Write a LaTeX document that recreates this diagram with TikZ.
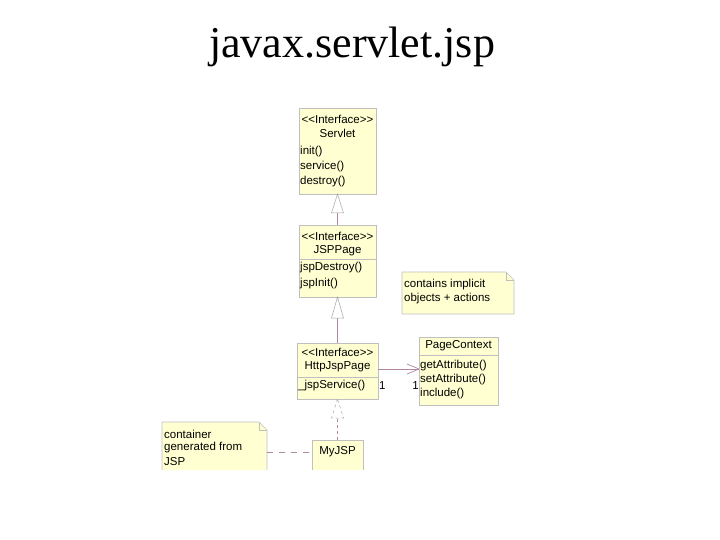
\documentclass[tikz,border=0pt]{standalone}
\usepackage{fontspec}
\setmainfont{Liberation Serif}
\newfontfamily\arial{Liberation Sans}
\definecolor{lnc}{RGB}{175,135,165}
\definecolor{boxf}{RGB}{255,255,210}
\begin{document}
\begin{tikzpicture}[x=1pt,y=-1pt,
  box/.style={fill=boxf, draw=black!25, line width=0.6pt},
  txt/.style={font=\arial\fontsize{11.5}{13}\selectfont, inner sep=0pt, anchor=west},
  ctxt/.style={font=\arial\fontsize{11.5}{13}\selectfont, inner sep=0pt},
  ln/.style={draw=lnc, line width=0.7pt},
  tri/.style={draw=black!35, fill=white, line width=0.5pt}]
\useasboundingbox (0,0) rectangle (720,540);
\node[font=\fontsize{44}{46}\selectfont, inner sep=0pt] (title) at (352,47) {javax.servlet.jsp};
% Servlet
\draw[box] (299,108) rectangle (376,194);
\coordinate (sb) at (337.5,194);
\node[ctxt] (s1) at (337.5,119) {<<Interface>>};
\node[ctxt] (s2) at (337.5,133) {Servlet};
\node[txt] (s3) at (300,152) {init()};
\node[txt] (s4) at (300,167) {service()};
\node[txt] (s5) at (300,182) {destroy()};
% JSPPage
\draw[box] (299,225) rectangle (376,297);
\draw[draw=black!25] (299,259) -- (376,259);
\coordinate (jt) at (337.5,225);
\coordinate (jb) at (337.5,297);
\node[ctxt] (j1) at (337.5,236) {<<Interface>>};
\node[ctxt] (j2) at (337.5,251) {JSPPage};
\node[txt] (j3) at (300,268) {jspDestroy()};
\node[txt] (j4) at (300,284) {jspInit()};
% HttpJspPage
\draw[box] (297,343) rectangle (378,399);
\draw[draw=black!25] (297,377) -- (378,377);
\coordinate (ht) at (337.5,343);
\coordinate (hb) at (337.5,399);
\coordinate (hr) at (378,369);
\node[ctxt] (h1) at (337.5,352) {<<Interface>>};
\node[ctxt] (h2) at (337.5,367) {HttpJspPage};
\node[txt] (h3) at (298,386) {\_jspService()};
\node[txt] (one1) at (379,386) {1};
% PageContext
\draw[box] (419,337) rectangle (498,405);
\draw[draw=black!25] (419,355) -- (498,355);
\coordinate (pl) at (419,369);
\node[ctxt] (p1) at (458.5,346) {PageContext};
\node[txt] (p2) at (420,366) {getAttribute()};
\node[txt] (p3) at (420,380) {setAttribute()};
\node[txt] (p4) at (420,394) {include()};
\node[ctxt, anchor=east] (one2) at (419,386) {1};
% note implicit
\draw[box] (402,272) -- (506,272) -- (514,280) -- (514,314) -- (402,314) -- cycle;
\draw[draw=black!25] (506,272) -- (506,280) -- (514,280);
\node[txt] (n1) at (404,285) {contains implicit};
\node[txt] (n2) at (404,299) {objects + actions};
% MyJSP
\fill[boxf] (312,440) rectangle (363,470);
\draw[draw=black!25, line width=0.6pt] (312,470) -- (312,440) -- (363,440) -- (363,470);
\coordinate (mt) at (337.5,440);
\coordinate (ml) at (312,452);
\node[ctxt] (m1) at (337.5,452) {MyJSP};
% note container
\fill[boxf] (162,422) -- (259,422) -- (267,430) -- (267,470) -- (162,470) -- cycle;
\draw[draw=black!25, line width=0.6pt] (162,470) -- (162,422) -- (259,422) -- (267,430) -- (267,470);
\draw[draw=black!25] (259,422) -- (259,430) -- (267,430);
\coordinate (cr) at (267,452);
\node[txt] (c1) at (164,434) {container};
\node[txt] (c2) at (164,448) {generated from};
\node[txt] (c3) at (164,462) {JSP};
% connectors
\draw[ln] (jt) -- ++(0,-12);
\draw[tri] (sb) -- (331.5,213) -- (343.5,213) -- cycle;
\draw[ln] (ht) -- ++(0,-25);
\draw[tri] (jb) -- (331.5,318) -- (343.5,318) -- cycle;
\draw[ln, dashed] (mt) -- ++(0,-22);
\draw[tri, dashed] (hb) -- (331.5,418) -- (343.5,418) -- cycle;
\draw[ln] (hr) -- (pl);
\draw[ln] (pl) -- ++(-12,-5) (pl) -- ++(-12,5);
\draw[ln, dash pattern=on 6pt off 6pt] (cr) -- (ml);
\end{tikzpicture}
\end{document}
